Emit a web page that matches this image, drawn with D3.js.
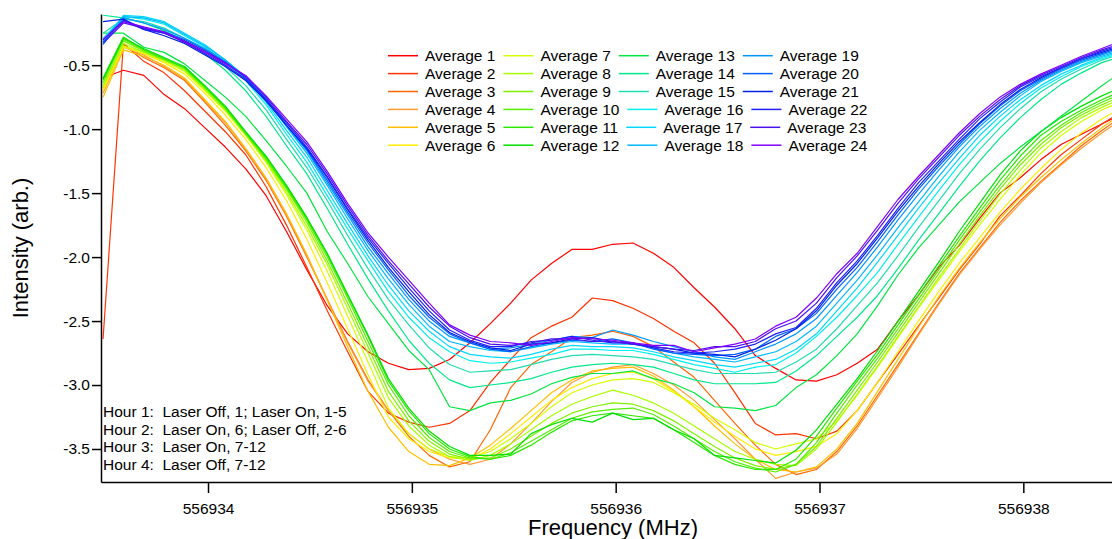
<!DOCTYPE html>
<html>
<head>
<meta charset="utf-8">
<script src="https://cdn.jsdelivr.net/npm/d3@7/dist/d3.min.js"></script>
<style>
body { margin: 0; background: #fff; }
svg text { font-family: "Liberation Sans", Arial, sans-serif; fill: #000; }
</style>
</head>
<body>
<div id="chart"></div>
<script>
// frequency of each sample (MHz)
var freqs = [556933.485,556933.585,556933.685,556933.785,556933.885,556933.985,
	556934.085,556934.185,556934.285,556934.385,556934.485,556934.585,556934.685,556934.785,556934.885,556934.985,
	556935.085,556935.185,556935.285,556935.385,556935.485,556935.585,556935.685,556935.785,556935.885,556935.985,
	556936.085,556936.185,556936.285,556936.385,556936.485,556936.585,556936.685,556936.785,556936.885,556936.985,
	556937.085,556937.185,556937.285,556937.385,556937.485,556937.585,556937.685,556937.785,556937.885,556937.985,
	556938.085,556938.185,556938.285,556938.385,556938.485];

var avg1 = [-0.60,-0.54,-0.58,-0.73,-0.84,-0.99,-1.14,-1.31,-1.52,-1.80,-2.10,-2.38,-2.60,-2.74,-2.83,-2.88,-2.87,-2.80,-2.67,-2.52,-2.36,-2.18,-2.05,-1.94,-1.94,-1.90,-1.89,-1.97,-2.08,-2.24,-2.39,-2.56,-2.77,-2.87,-2.96,-2.97,-2.92,-2.83,-2.72,-2.50,-2.30,-2.08,-1.91,-1.70,-1.50,-1.38,-1.24,-1.12,-1.04,-0.96,-0.88];
var avg2 = [-2.64,-0.33,-0.47,-0.56,-0.70,-0.86,-1.02,-1.20,-1.45,-1.75,-2.08,-2.42,-2.74,-3.05,-3.22,-3.29,-3.33,-3.30,-3.20,-2.98,-2.80,-2.63,-2.54,-2.47,-2.32,-2.34,-2.40,-2.48,-2.58,-2.67,-2.83,-3.06,-3.30,-3.39,-3.38,-3.42,-3.36,-3.20,-2.98,-2.76,-2.54,-2.32,-2.10,-1.90,-1.68,-1.52,-1.35,-1.20,-1.08,-0.96,-0.86];
var avg3 = [-0.68,-0.34,-0.44,-0.52,-0.62,-0.79,-0.97,-1.17,-1.40,-1.68,-2.00,-2.33,-2.66,-2.96,-3.20,-3.40,-3.55,-3.64,-3.60,-3.35,-3.02,-2.84,-2.74,-2.63,-2.61,-2.58,-2.62,-2.70,-2.82,-2.94,-3.12,-3.30,-3.47,-3.62,-3.70,-3.66,-3.52,-3.32,-3.08,-2.84,-2.60,-2.36,-2.13,-1.93,-1.73,-1.56,-1.41,-1.27,-1.13,-1.01,-0.90];
var avg4 = [-0.72,-0.36,-0.42,-0.51,-0.61,-0.78,-0.95,-1.16,-1.39,-1.67,-1.99,-2.33,-2.67,-2.97,-3.20,-3.38,-3.50,-3.58,-3.62,-3.58,-3.46,-3.30,-3.13,-2.98,-2.90,-2.86,-2.84,-2.91,-3.00,-3.12,-3.27,-3.42,-3.58,-3.73,-3.68,-3.65,-3.54,-3.34,-3.10,-2.86,-2.61,-2.37,-2.14,-1.94,-1.75,-1.58,-1.42,-1.28,-1.15,-1.03,-0.92];
var avg5 = [-0.75,-0.38,-0.43,-0.50,-0.60,-0.77,-0.94,-1.15,-1.38,-1.66,-1.98,-2.34,-2.70,-3.05,-3.33,-3.52,-3.62,-3.63,-3.57,-3.47,-3.34,-3.20,-3.06,-2.96,-2.89,-2.87,-2.86,-2.93,-3.04,-3.17,-3.32,-3.46,-3.58,-3.66,-3.68,-3.64,-3.50,-3.30,-3.05,-2.80,-2.55,-2.31,-2.09,-1.89,-1.70,-1.53,-1.38,-1.24,-1.11,-0.99,-0.88];
var avg6 = [-0.70,-0.36,-0.41,-0.48,-0.57,-0.72,-0.89,-1.08,-1.30,-1.56,-1.86,-2.20,-2.56,-2.92,-3.25,-3.42,-3.52,-3.57,-3.58,-3.50,-3.38,-3.25,-3.12,-3.02,-2.95,-2.91,-2.90,-2.95,-3.05,-3.17,-3.29,-3.40,-3.50,-3.55,-3.52,-3.48,-3.38,-3.20,-2.98,-2.74,-2.50,-2.27,-2.05,-1.85,-1.65,-1.47,-1.31,-1.16,-1.03,-0.92,-0.83];
var avg7 = [-0.68,-0.35,-0.40,-0.47,-0.55,-0.70,-0.86,-1.05,-1.26,-1.51,-1.79,-2.11,-2.46,-2.82,-3.18,-3.38,-3.50,-3.56,-3.57,-3.52,-3.42,-3.30,-3.17,-3.06,-3.00,-2.96,-2.95,-2.98,-3.06,-3.15,-3.26,-3.35,-3.45,-3.50,-3.46,-3.42,-3.28,-3.08,-2.86,-2.63,-2.40,-2.18,-1.96,-1.75,-1.55,-1.36,-1.19,-1.05,-0.94,-0.85,-0.78];
var avg8 = [-0.66,-0.33,-0.40,-0.46,-0.54,-0.69,-0.85,-1.04,-1.25,-1.49,-1.76,-2.06,-2.40,-2.75,-3.10,-3.32,-3.47,-3.56,-3.59,-3.55,-3.46,-3.35,-3.24,-3.15,-3.09,-3.04,-3.08,-3.14,-3.22,-3.32,-3.42,-3.52,-3.58,-3.62,-3.63,-3.50,-3.29,-3.07,-2.85,-2.62,-2.39,-2.16,-1.94,-1.72,-1.51,-1.32,-1.15,-1.02,-0.91,-0.83,-0.76];
var avg9 = [-0.64,-0.31,-0.39,-0.46,-0.53,-0.68,-0.84,-1.04,-1.24,-1.47,-1.73,-2.03,-2.36,-2.70,-3.05,-3.28,-3.44,-3.54,-3.58,-3.57,-3.50,-3.40,-3.30,-3.22,-3.17,-3.14,-3.15,-3.20,-3.28,-3.38,-3.48,-3.57,-3.63,-3.66,-3.62,-3.48,-3.26,-3.04,-2.82,-2.59,-2.36,-2.13,-1.90,-1.68,-1.47,-1.28,-1.12,-0.99,-0.89,-0.81,-0.74];
var avg10 = [-0.62,-0.30,-0.38,-0.45,-0.52,-0.67,-0.84,-1.03,-1.23,-1.46,-1.71,-2.00,-2.32,-2.66,-3.00,-3.24,-3.41,-3.52,-3.57,-3.58,-3.53,-3.44,-3.35,-3.26,-3.21,-3.19,-3.18,-3.23,-3.32,-3.42,-3.52,-3.60,-3.65,-3.68,-3.62,-3.45,-3.22,-3.00,-2.79,-2.56,-2.33,-2.10,-1.87,-1.65,-1.44,-1.25,-1.09,-0.97,-0.87,-0.79,-0.72];
var avg11 = [-0.60,-0.28,-0.38,-0.45,-0.52,-0.67,-0.83,-1.03,-1.22,-1.45,-1.70,-1.98,-2.30,-2.62,-2.97,-3.20,-3.38,-3.50,-3.56,-3.58,-3.55,-3.47,-3.37,-3.28,-3.24,-3.22,-3.24,-3.26,-3.35,-3.45,-3.55,-3.62,-3.66,-3.66,-3.58,-3.40,-3.18,-2.97,-2.76,-2.53,-2.30,-2.07,-1.84,-1.62,-1.40,-1.21,-1.05,-0.94,-0.85,-0.77,-0.70];
var avg12 = [-0.61,-0.29,-0.37,-0.44,-0.51,-0.66,-0.82,-1.02,-1.21,-1.44,-1.69,-1.97,-2.29,-2.61,-2.95,-3.18,-3.36,-3.48,-3.55,-3.55,-3.54,-3.38,-3.31,-3.26,-3.29,-3.22,-3.27,-3.26,-3.35,-3.42,-3.55,-3.57,-3.59,-3.61,-3.51,-3.35,-3.15,-2.95,-2.73,-2.50,-2.27,-2.04,-1.80,-1.58,-1.36,-1.17,-1.02,-0.91,-0.82,-0.74,-0.67];
var avg13 = [-0.25,-0.25,-0.36,-0.40,-0.49,-0.62,-0.75,-0.90,-1.09,-1.29,-1.50,-1.80,-2.05,-2.31,-2.52,-2.73,-2.88,-3.17,-3.20,-3.14,-3.12,-3.07,-2.99,-2.94,-2.91,-2.91,-2.89,-2.95,-2.99,-3.06,-3.17,-3.18,-3.20,-3.16,-3.02,-2.92,-2.77,-2.60,-2.38,-2.14,-1.93,-1.75,-1.57,-1.42,-1.27,-1.14,-1.02,-0.90,-0.78,-0.66,-0.55];
var avg14 = [-0.11,-0.13,-0.17,-0.23,-0.31,-0.41,-0.54,-0.70,-0.90,-1.13,-1.35,-1.62,-1.90,-2.17,-2.42,-2.65,-2.83,-2.96,-3.02,-3.00,-2.98,-2.95,-2.90,-2.86,-2.84,-2.83,-2.84,-2.86,-2.91,-2.96,-2.99,-2.99,-2.99,-2.98,-2.89,-2.77,-2.62,-2.47,-2.30,-2.09,-1.87,-1.66,-1.45,-1.25,-1.07,-0.91,-0.77,-0.65,-0.56,-0.48,-0.43];
var avg15 = [-0.25,-0.14,-0.16,-0.21,-0.29,-0.38,-0.51,-0.66,-0.85,-1.08,-1.30,-1.56,-1.83,-2.09,-2.33,-2.53,-2.71,-2.84,-2.90,-2.89,-2.88,-2.84,-2.80,-2.77,-2.76,-2.77,-2.78,-2.80,-2.84,-2.88,-2.91,-2.91,-2.91,-2.90,-2.82,-2.72,-2.56,-2.38,-2.20,-1.99,-1.77,-1.56,-1.35,-1.16,-0.99,-0.84,-0.71,-0.61,-0.53,-0.46,-0.41];
var avg16 = [-0.29,-0.12,-0.14,-0.18,-0.27,-0.36,-0.48,-0.62,-0.81,-1.04,-1.26,-1.52,-1.78,-2.03,-2.27,-2.47,-2.63,-2.74,-2.81,-2.83,-2.82,-2.79,-2.76,-2.72,-2.72,-2.73,-2.73,-2.76,-2.80,-2.84,-2.87,-2.90,-2.86,-2.84,-2.75,-2.62,-2.47,-2.30,-2.12,-1.90,-1.69,-1.48,-1.28,-1.10,-0.94,-0.80,-0.68,-0.59,-0.51,-0.45,-0.40];
var avg17 = [-0.32,-0.11,-0.12,-0.16,-0.25,-0.34,-0.46,-0.60,-0.79,-1.01,-1.22,-1.48,-1.74,-1.99,-2.22,-2.42,-2.58,-2.70,-2.76,-2.78,-2.79,-2.76,-2.72,-2.69,-2.70,-2.70,-2.71,-2.74,-2.78,-2.81,-2.84,-2.86,-2.83,-2.80,-2.72,-2.60,-2.42,-2.24,-2.04,-1.83,-1.62,-1.42,-1.23,-1.05,-0.90,-0.77,-0.66,-0.57,-0.50,-0.44,-0.39];
var avg18 = [-0.31,-0.12,-0.13,-0.17,-0.26,-0.35,-0.46,-0.59,-0.77,-0.98,-1.19,-1.44,-1.70,-1.95,-2.17,-2.37,-2.54,-2.66,-2.70,-2.73,-2.74,-2.71,-2.68,-2.66,-2.67,-2.68,-2.68,-2.71,-2.75,-2.78,-2.80,-2.82,-2.78,-2.74,-2.66,-2.54,-2.36,-2.18,-1.98,-1.77,-1.57,-1.37,-1.18,-1.01,-0.87,-0.74,-0.63,-0.55,-0.48,-0.43,-0.38];
var avg19 = [-0.34,-0.13,-0.17,-0.22,-0.29,-0.37,-0.47,-0.59,-0.76,-0.97,-1.17,-1.42,-1.67,-1.92,-2.13,-2.33,-2.50,-2.62,-2.67,-2.72,-2.71,-2.68,-2.65,-2.62,-2.63,-2.57,-2.61,-2.66,-2.70,-2.74,-2.78,-2.80,-2.74,-2.68,-2.60,-2.48,-2.30,-2.12,-1.92,-1.71,-1.51,-1.32,-1.14,-0.98,-0.84,-0.72,-0.62,-0.54,-0.47,-0.42,-0.37];
var avg20 = [-0.32,-0.15,-0.21,-0.24,-0.30,-0.38,-0.48,-0.60,-0.77,-0.97,-1.16,-1.40,-1.65,-1.89,-2.10,-2.30,-2.47,-2.60,-2.67,-2.72,-2.74,-2.70,-2.67,-2.65,-2.66,-2.64,-2.67,-2.72,-2.75,-2.76,-2.77,-2.76,-2.72,-2.62,-2.56,-2.44,-2.25,-2.08,-1.88,-1.67,-1.47,-1.29,-1.12,-0.96,-0.82,-0.70,-0.61,-0.53,-0.46,-0.41,-0.36];
var avg21 = [-0.16,-0.14,-0.22,-0.27,-0.33,-0.42,-0.51,-0.62,-0.78,-0.97,-1.15,-1.38,-1.63,-1.87,-2.08,-2.27,-2.45,-2.59,-2.66,-2.71,-2.73,-2.68,-2.67,-2.64,-2.63,-2.66,-2.68,-2.70,-2.72,-2.75,-2.76,-2.78,-2.72,-2.65,-2.56,-2.42,-2.22,-2.05,-1.85,-1.64,-1.45,-1.27,-1.10,-0.95,-0.81,-0.69,-0.60,-0.52,-0.45,-0.40,-0.35];
var avg22 = [-0.30,-0.15,-0.22,-0.25,-0.32,-0.41,-0.50,-0.61,-0.77,-0.95,-1.14,-1.37,-1.62,-1.85,-2.05,-2.24,-2.42,-2.57,-2.65,-2.70,-2.70,-2.66,-2.65,-2.62,-2.65,-2.67,-2.67,-2.71,-2.74,-2.75,-2.74,-2.72,-2.68,-2.60,-2.55,-2.40,-2.20,-2.03,-1.83,-1.62,-1.42,-1.25,-1.08,-0.92,-0.79,-0.67,-0.59,-0.52,-0.45,-0.39,-0.34];
var avg23 = [-0.33,-0.17,-0.21,-0.25,-0.31,-0.39,-0.48,-0.59,-0.75,-0.94,-1.12,-1.35,-1.60,-1.83,-2.03,-2.21,-2.39,-2.54,-2.63,-2.68,-2.69,-2.67,-2.64,-2.64,-2.66,-2.66,-2.68,-2.70,-2.72,-2.73,-2.70,-2.70,-2.66,-2.56,-2.50,-2.36,-2.16,-1.99,-1.79,-1.58,-1.39,-1.22,-1.05,-0.90,-0.77,-0.66,-0.58,-0.51,-0.44,-0.38,-0.33];
var avg24 = [-0.30,-0.16,-0.20,-0.24,-0.32,-0.40,-0.49,-0.58,-0.74,-0.92,-1.10,-1.33,-1.58,-1.81,-2.00,-2.18,-2.36,-2.53,-2.61,-2.66,-2.67,-2.69,-2.66,-2.63,-2.64,-2.65,-2.67,-2.69,-2.69,-2.74,-2.71,-2.68,-2.64,-2.54,-2.47,-2.32,-2.13,-1.97,-1.76,-1.55,-1.37,-1.20,-1.03,-0.88,-0.75,-0.65,-0.57,-0.50,-0.43,-0.37,-0.31];

var series = [avg1,avg2,avg3,avg4,avg5,avg6,avg7,avg8,avg9,avg10,avg11,avg12,
	avg13,avg14,avg15,avg16,avg17,avg18,avg19,avg20,avg21,avg22,avg23,avg24];
var names = series.map(function(d, i){ return "Average " + (i + 1); });
var colors = ["#ff0000","#ff3300","#ff6600","#ff9a33","#ffbf00","#ffee00",
	"#d4ff00","#a6ff00","#80f000","#55ee00","#2be800","#00e000",
	"#00e640","#00e88a","#20dcb0","#00f0f0","#00d8ff","#00b8ff",
	"#0098ff","#0060ff","#0020e0","#2020ff","#4a10f0","#8000ff"];

var xTicks = [556934, 556935, 556936, 556937, 556938];
var yTicks = [-3.5, -3.0, -2.5, -2.0, -1.5, -1.0, -0.5];
var notes = ["Hour 1:  Laser Off, 1; Laser On, 1-5",
	"Hour 2:  Laser On, 6; Laser Off, 2-6",
	"Hour 3:  Laser On, 7-12",
	"Hour 4:  Laser Off, 7-12"];

var svg = d3.select("#chart").append("svg")
	.attr("width", 1112)
	.attr("height", 539);

var x = d3.scaleLinear().domain([556933.475, 556938.435]).range([101, 1112]);
var y = d3.scaleLinear().domain([-3.758, -0.1]).range([482, 14]);

svg.append("clipPath").attr("id", "plot")
	.append("rect")
	.attr("x", 101).attr("y", 0)
	.attr("width", 1011).attr("height", 482);

var line = d3.line()
	.x(function(d, i){ return x(freqs[i]); })
	.y(function(d){ return y(d); });

svg.append("g").attr("clip-path", "url(#plot)")
	.selectAll("path").data(series)
	.enter().append("path")
	.attr("d", line)
	.attr("fill", "none")
	.attr("stroke", function(d, i){ return colors[i]; })
	.attr("stroke-width", 1.2)
	.attr("stroke-linejoin", "round");

// axes
var xAxis = svg.append("g")
	.attr("transform", "translate(0,482)")
	.call(d3.axisBottom(x).tickValues(xTicks).tickFormat(d3.format("d"))
		.tickSize(11).tickSizeOuter(0).tickPadding(10));
var yAxis = svg.append("g")
	.attr("transform", "translate(101,0)")
	.call(d3.axisLeft(y).tickValues(yTicks)
		.tickFormat(function(d){ return d.toFixed(1); })
		.tickSize(9).tickSizeOuter(0).tickPadding(2));
[xAxis, yAxis].forEach(function(g){
	g.attr("font-size", 15.5).attr("font-family", null);
	g.select(".domain").attr("stroke", "#000").attr("stroke-width", 1.5);
	g.selectAll(".tick line").attr("stroke", "#000").attr("stroke-width", 1.5);
	g.selectAll(".tick text").attr("fill", "#000");
});

svg.append("text")
	.attr("transform", "translate(28,248) rotate(-90)")
	.attr("text-anchor", "middle")
	.attr("font-size", 22)
	.text("Intensity (arb.)");
svg.append("text")
	.attr("x", 613).attr("y", 535)
	.attr("text-anchor", "middle")
	.attr("font-size", 22)
	.text("Frequency (MHz)");

// notes, bottom left
svg.append("g").selectAll("text").data(notes)
	.enter().append("text")
	.attr("x", 103)
	.attr("y", function(d, i){ return 417 + i * 17.6; })
	.attr("font-size", 15.5)
	.style("white-space", "pre")
	.text(function(d){ return d; });

// legend: 6 rows, 4 columns, items flow along each row
var legend = svg.append("g");
for (var r = 0; r < 6; r++) {
	var ly = 55.7 + r * 17.9;
	var lx = 388;
	for (var c = 0; c < 4; c++) {
		var k = r + c * 6;
		legend.append("line")
			.attr("x1", lx).attr("x2", lx + 30)
			.attr("y1", ly).attr("y2", ly)
			.attr("stroke", colors[k])
			.attr("stroke-width", 1.5);
		var t = legend.append("text")
			.attr("x", lx + 37).attr("y", ly + 5.3)
			.attr("font-size", 15.5)
			.text(names[k]);
		lx = lx + 37 + t.node().getComputedTextLength() + 8;
	}
}
</script>
</body>
</html>
